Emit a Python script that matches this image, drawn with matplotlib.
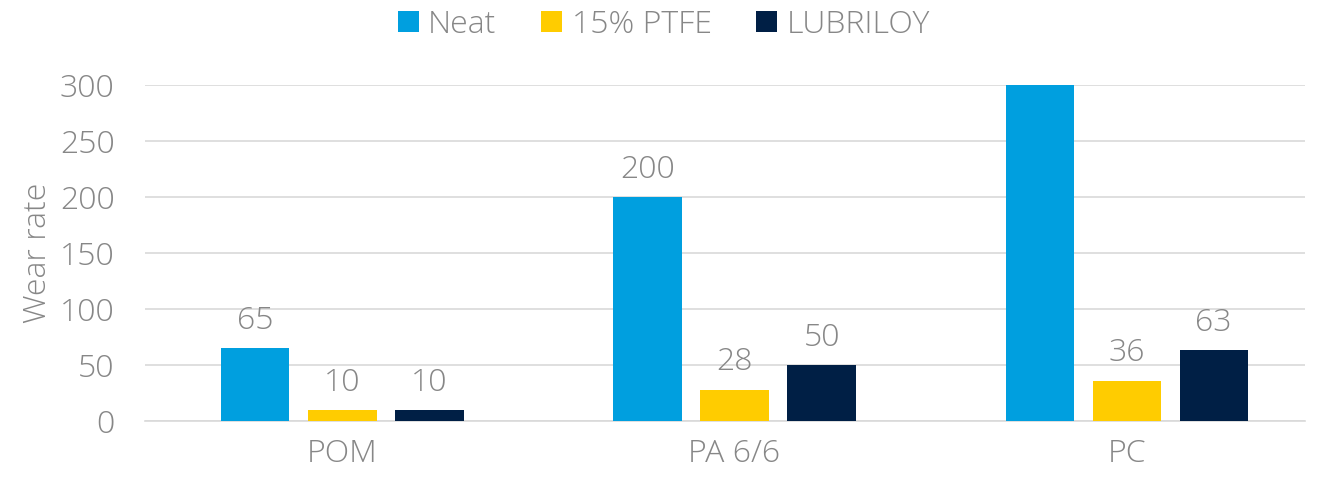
import numpy as np
import matplotlib
matplotlib.use('Agg')
import matplotlib.pyplot as plt

categories = ['POM', 'PA 6/6', 'PC']
series = ['Neat', '15% PTFE', 'LUBRILOY']
neat = [65, 200, 300]
ptfe = [10, 28, 36]
lubriloy = [10, 50, 63]
colors = ['#009FDF', '#FFCC00', '#001F45']
ymax = 300

plt.rcParams['font.family'] = ['Open Sans', 'DejaVu Sans']
grey = '#878787'
fs = 23

fig = plt.figure(figsize=(13.2, 4.8), dpi=100)
ax = fig.add_axes([0.110, 0.123, 0.879, 0.700])

x = np.arange(len(categories))
width = 0.174
step = 0.222
for i, (vals, name) in enumerate(zip([neat, ptfe, lubriloy], series)):
    pos = x + (i - 1) * step
    ax.bar(pos, vals, width, color=colors[i], label=name, zorder=3)
    for p, v in zip(pos, vals):
        if v < ymax:
            ax.text(p, v + 10, str(v), ha='center', va='bottom',
                    fontsize=fs, color=grey, fontweight='light')

ax.set_xlim(-0.503, 2.456)
ax.set_ylim(0, ymax)
ax.set_yticks(range(0, 301, 50))
ax.set_xticks(x)
ax.set_xticklabels(categories)
ax.tick_params(axis='both', length=0, labelsize=fs, labelcolor=grey)
ax.tick_params(axis='y', pad=22)
ax.tick_params(axis='x', pad=12)
for lab in ax.get_xticklabels() + ax.get_yticklabels():
    lab.set_fontweight('light')
ax.grid(axis='y', color='#d9d9d9', linewidth=1.2, zorder=0)
for s in ['top', 'right', 'left']:
    ax.spines[s].set_visible(False)
ax.spines['bottom'].set_color('#d9d9d9')
ax.spines['bottom'].set_linewidth(1.2)
ax.set_ylabel('Wear rate', fontsize=fs, color=grey, labelpad=4, fontweight='light')

leg = fig.legend(loc='upper center', bbox_to_anchor=(0.503, 1.042), ncol=3, frameon=False,
                 fontsize=fs, labelcolor=grey, handlelength=0.65, handleheight=0.65,
                 handletextpad=0.3, columnspacing=1.4)
for t in leg.get_texts():
    t.set_fontweight('light')

fig.savefig('out.png', dpi=100)
